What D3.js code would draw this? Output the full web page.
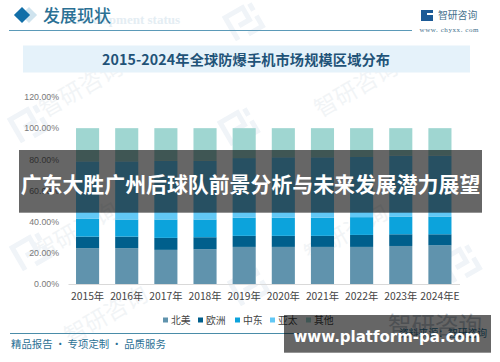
<!DOCTYPE html>
<html><head><meta charset="utf-8">
<script src="https://cdn.jsdelivr.net/npm/d3@7/dist/d3.min.js"></script>
<style>html,body{margin:0;padding:0;background:#fff;overflow:hidden}svg{display:block}
text{font-family:"Noto Sans CJK SC","Noto Sans",sans-serif}</style></head><body>
<svg id="c" width="500" height="362"></svg>
<script>
const years=["2015年","2016年","2017年","2018年","2019年","2020年","2021年","2022年","2023年","2024年E"];
const northAmerica=[23,23,21.9,22.3,23.8,23.8,23.8,23.8,24.4,24.8];
const europe=[7.4,7.4,7.7,7.7,7.1,7.1,7.1,7.7,7.5,7.1];
const middleEast=[11.6,11,11.8,11.4,11.7,11.7,11.7,11.4,11.4,11.4];
const asiaPacific=[36.7,37.3,37.6,37.6,38.2,38.7,38.7,38.6,39,39];
const others=[21.3,21.3,21,21,19.2,18.7,18.7,18.5,17.7,17.7];
const seriesNames=["北美","欧洲","中东","亚太","其他"];
const seriesColors=["#6093ad","#005f8c","#0ca3dc","#62c8f5","#9fd6d1"];
const seriesValues=[northAmerica,europe,middleEast,asiaPacific,others];
const yTicks=[0,20,40,60,80,100,120];
const legendX=[163,198,235,270,306];
const svg=d3.select("#c");

// watermarks
const wordMarks=[[85,95],[360,95],[80,238],[350,240],[110,322]];
wordMarks.forEach(([x,y])=>{
  const g=svg.append("g").attr("transform",`translate(${x},${y}) rotate(-30)`).attr("opacity",.08);
  g.append("text").attr("text-anchor","middle").attr("font-size",23).attr("fill","#5c7f99").text("智研咨询");
});
const logoMarks=[[30,122],[32,250],[245,20],[250,285],[462,262],[240,125]];
logoMarks.forEach(([x,y])=>{
  const g=svg.append("g").attr("transform",`translate(${x},${y}) rotate(-30)`).attr("fill","none").attr("stroke","#f0f4f8").attr("stroke-width",5);
  g.append("path").attr("d","M-16,14V-12H4V2H-8");
  g.append("path").attr("d","M12,-12V-4M12,2V14H-4");
});

svg.append("text").attr("x",180).attr("y",24).attr("text-anchor","end").attr("font-size",13).attr("font-weight",700)
  .style("font-family","Liberation Serif").attr("fill","#e4edf3").text("Development status");

// header
svg.append("path").attr("d",d3.symbol(d3.symbolSquare,130)()).attr("transform","translate(29,15) rotate(45)").attr("fill","#cfe3ee");
svg.append("path").attr("d",d3.symbol(d3.symbolSquare,130)()).attr("transform","translate(22,15) rotate(45)").attr("fill","#126fa8");
svg.append("text").attr("x",43).attr("y",22).attr("font-size",17).attr("font-weight",500).attr("fill","#2a7094").text("发展现状");
svg.append("line").attr("x1",9).attr("x2",412).attr("y1",30.5).attr("y2",30.5).attr("stroke","#5b9ab8").attr("stroke-width",1);
svg.append("rect").attr("x",421).attr("y",10).attr("width",12).attr("height",11).attr("fill","#1c5a96");
svg.append("rect").attr("x",427).attr("y",13).attr("width",6).attr("height",2).attr("fill","#fff");
svg.append("text").attr("x",438).attr("y",19).attr("font-size",9.8).attr("fill","#44708c").text("智研咨询");
svg.append("text").attr("x",419.5).attr("y",32).attr("font-size",7).style("font-family","Liberation Serif").attr("fill","#44708c").attr("textLength",59).text("www. chyxx. com");

// title band
svg.append("rect").attr("x",23).attr("y",45.5).attr("width",447).attr("height",27).attr("fill","#e5f2fa");
svg.append("text").attr("x",102).attr("y",65).attr("font-size",14.2).attr("font-weight",700).attr("fill","#1f5378").attr("textLength",288).text("2015-2024年全球防爆手机市场规模区域分布");

// chart
const x=d3.scaleBand().domain(years).range([68,459.5]).paddingInner(.41).paddingOuter(.205);
const y=d3.scaleLinear().domain([0,120]).range([284,97]);
const rows=years.map((yr,i)=>{const r={year:yr};seriesNames.forEach((n,k)=>r[n]=seriesValues[k][i]);return r;});
const stacked=d3.stack().keys(seriesNames)(rows);
svg.append("g").selectAll("g").data(stacked).join("g").attr("fill",(d,i)=>seriesColors[i])
  .selectAll("rect").data(d=>d).join("rect")
  .attr("x",d=>x(d.data.year)).attr("width",x.bandwidth())
  .attr("y",d=>y(d[1])).attr("height",d=>y(d[0])-y(d[1]));

const yAxis=svg.append("g").attr("transform","translate(68,0)")
  .call(d3.axisLeft(y).tickValues(yTicks).tickFormat(d=>d3.format(".2f")(d)+"%").tickSize(0).tickPadding(9));
yAxis.select(".domain").remove();
yAxis.selectAll("text").attr("font-size",8.8).attr("fill","#7a7a7a").style("font-family","Liberation Sans");
const xAxis=svg.append("g").attr("transform","translate(0,284)")
  .call(d3.axisBottom(x).tickSize(0).tickPadding(9));
xAxis.select(".domain").attr("stroke","#d9d9d9");
xAxis.selectAll("text").attr("font-size",10.3).attr("fill","#444");

// legend
const lg=svg.append("g").selectAll("g").data(seriesNames).join("g").attr("transform",(d,i)=>`translate(${legendX[i]},320)`);
lg.append("rect").attr("y",-2.5).attr("width",5).attr("height",5).attr("fill",(d,i)=>seriesColors[i]);
lg.append("text").attr("x",8).attr("y",3.5).attr("font-size",9.8).attr("fill","#444").text(d=>d);

// footer
svg.append("line").attr("x1",10).attr("x2",300).attr("y1",333.5).attr("y2",333.5).attr("stroke","#4a8ca8");
svg.append("text").attr("x",11).attr("y",348).attr("font-size",10.4).attr("fill","#2a7094").text("精品报告 · 专项定制 · 品质服务");
svg.append("text").attr("x",388).attr("y",334).attr("font-size",23.5).attr("fill","#c0c8d0").text("智研咨询");
svg.append("text").attr("x",399).attr("y",337).attr("font-size",9.8).attr("fill","#2a7094").text("资料来源：智研咨询");

// overlays
svg.append("rect").attr("x",19).attr("y",150).attr("width",463).attr("height",62.7).attr("fill","#000").attr("fill-opacity",.6);
svg.append("text").attr("x",250.5).attr("y",192).attr("text-anchor","middle").attr("font-size",20.9).attr("font-weight",700).attr("fill","#fff").text("广东大胜广州后球队前景分析与未来发展潜力展望");
svg.append("rect").attr("x",284).attr("y",315).attr("width",207).attr("height",37.7).attr("fill","#000").attr("fill-opacity",.6);
svg.append("text").attr("x",387).attr("y",342).attr("text-anchor","middle").attr("font-size",15).attr("font-weight",700).style("font-family","DejaVu Sans").attr("fill","#fff").text("www.platform-pa.com");
</script></body></html>
